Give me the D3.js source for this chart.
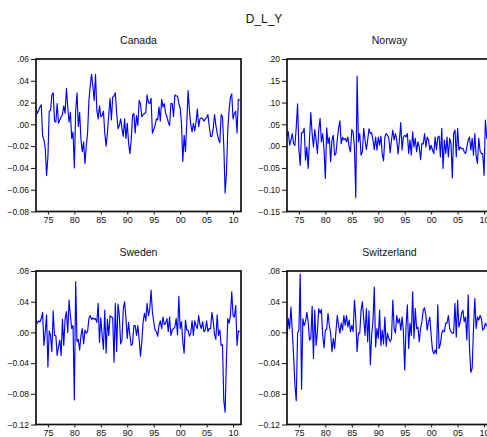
<!DOCTYPE html>
<html>
<head>
<meta charset="utf-8">
<script src="https://cdn.jsdelivr.net/npm/d3@7/dist/d3.min.js"></script>
<style>
  html, body { margin: 0; padding: 0; background: #fff; overflow: hidden; }
  svg { display: block; }
  text { font-family: "Liberation Sans", Arial, sans-serif; fill: #111; }
</style>
</head>
<body>
<svg id="chart" width="500" height="437"></svg>
<script>
// Quarterly first differences of log output, 1972Q4 onward
const sampleStart = 1972.75;
const sampleEnd = 2011.5;

const canada = [
  0.014, 0.010, 0.013, 0.016, 0.018, -0.011, -0.014, -0.022, -0.047, -0.030,
  0.012, 0.013, 0.027, 0.029, 0.003, 0.002, 0.019, 0.001, 0.004, 0.007,
  0.009, 0.017, 0.010, 0.033, 0.016, 0.002, 0.011, -0.013, -0.007, -0.040,
  0.013, 0.029, -0.002, 0.011, -0.014, -0.025, -0.016, -0.036, -0.020, -0.008,
  0.022, 0.035, 0.046, 0.035, 0.022, 0.046, 0.013, 0.005, 0.017, 0.007,
  0.008, 0.012, -0.008, -0.020, -0.008, 0.009, 0.024, 0.004, 0.025, 0.026,
  0.029, 0.010, -0.004, -0.001, 0.005, -0.004, -0.011, 0.005, -0.013, 0.001,
  -0.017, -0.027, -0.014, 0.008, 0.010, -0.008, 0.008, -0.001, 0.022, 0.019,
  0.007, 0.009, 0.010, 0.011, 0.027, 0.020, 0.019, 0.024, -0.008, -0.005,
  -0.001, 0.005, 0.004, 0.016, 0.003, 0.023, 0.016, 0.019, 0.010, 0.007,
  0.002, -0.001, 0.019, 0.019, 0.007, 0.027, 0.026, 0.026, 0.019, 0.015,
  0.001, -0.034, -0.010, -0.025, 0.001, 0.031, 0.013, 0.000, -0.007, 0.001,
  -0.006, 0.002, 0.014, -0.002, 0.005, 0.006, 0.005, 0.003, 0.005, 0.006,
  0.009, -0.002, -0.011, -0.011, -0.004, 0.009, -0.001, -0.008, -0.014, -0.017,
  0.009, 0.007, -0.020, -0.063, -0.045, -0.005, 0.013, 0.025, 0.028, 0.005,
  0.010, 0.012, -0.008, 0.023, 0.022
];

const norway = [
  0.023, 0.033, 0.002, 0.014, 0.029, 0.005, 0.002, 0.044, 0.097, -0.009,
  -0.044, 0.031, 0.031, 0.041, -0.032, -0.002, -0.051, 0.014, 0.077, 0.029,
  -0.002, 0.038, 0.014, -0.017, 0.037, 0.064, 0.010, 0.029, -0.009, -0.074,
  0.042, 0.006, 0.020, -0.036, 0.014, 0.025, -0.021, -0.017, 0.014, 0.041,
  0.058, 0.006, 0.020, 0.015, 0.018, 0.010, 0.021, -0.002, -0.013, 0.038,
  0.031, -0.002, -0.118, 0.161, 0.010, 0.029, -0.021, -0.013, 0.041, 0.014,
  -0.008, 0.014, 0.040, 0.029, 0.031, 0.014, -0.008, 0.021, -0.009, 0.021,
  0.002, 0.023, -0.017, -0.034, 0.021, 0.029, 0.025, 0.018, -0.015, 0.014,
  0.037, 0.014, 0.029, 0.014, -0.018, 0.014, 0.054, -0.009, 0.021, 0.025,
  0.021, 0.029, -0.017, 0.014, -0.021, 0.033, -0.002, 0.018, -0.013, 0.010,
  -0.002, -0.031, 0.006, 0.005, 0.029, -0.002, 0.021, 0.014, -0.009, 0.002,
  -0.009, -0.017, 0.021, -0.008, 0.020, 0.023, -0.025, 0.041, -0.051, 0.014,
  -0.017, 0.021, -0.025, 0.018, 0.006, -0.073, 0.029, 0.037, -0.025, 0.041,
  -0.009, -0.002, -0.006, -0.005, -0.013, -0.017, -0.002, 0.014, 0.021, -0.009,
  0.018, -0.021, 0.029, -0.023, -0.040, 0.018, -0.011, -0.017, -0.017, -0.067,
  0.060, 0.020, 0.012
];

const sweden = [
  0.016, 0.012, 0.015, 0.014, 0.018, 0.026, -0.017, 0.001, 0.023, -0.045,
  0.002, -0.004, -0.025, 0.028, -0.004, -0.004, -0.030, -0.019, -0.010, -0.030,
  0.017, -0.017, 0.018, 0.027, 0.000, 0.042, 0.022, 0.005, 0.009, -0.088,
  0.066, -0.012, -0.009, -0.023, -0.004, 0.005, -0.015, 0.003, -0.001, 0.001,
  0.018, 0.022, 0.017, 0.019, 0.017, 0.018, 0.013, 0.038, -0.013, 0.019,
  -0.003, -0.022, 0.029, -0.027, 0.017, -0.004, 0.022, 0.020, 0.019, -0.039,
  0.038, -0.025, 0.037, 0.022, -0.015, -0.010, 0.031, 0.040, 0.018, -0.008,
  0.013, -0.004, -0.017, -0.015, 0.009, 0.009, -0.004, 0.009, -0.009, -0.031,
  -0.012, 0.014, 0.025, 0.015, 0.038, 0.022, 0.030, 0.055, 0.027, 0.014,
  0.003, 0.001, -0.005, 0.009, 0.015, 0.005, 0.020, 0.010, 0.012, 0.018,
  0.001, 0.020, -0.004, 0.003, 0.005, 0.007, 0.018, -0.003, 0.047, 0.005,
  0.014, -0.012, -0.027, 0.016, 0.003, 0.003, -0.005, -0.001, 0.015, -0.004,
  0.015, 0.009, 0.005, 0.022, 0.010, 0.005, 0.014, 0.001, 0.003, 0.015,
  0.001, 0.005, 0.005, 0.026, 0.014, -0.003, -0.009, 0.023, -0.004, 0.003,
  -0.017, -0.016, -0.089, -0.104, -0.034, 0.018, 0.012, 0.022, 0.053, 0.022,
  0.020, 0.035, -0.017, 0.002, 0.001
];

const switzerland = [
  -0.008, 0.018, 0.005, 0.033, 0.001, -0.030, -0.069, -0.089, -0.001, 0.003,
  0.076, -0.074, 0.018, 0.009, 0.014, 0.026, 0.014, -0.010, -0.008, 0.034,
  -0.034, 0.029, -0.017, 0.001, 0.031, 0.025, 0.030, -0.004, -0.020, 0.003,
  0.004, 0.025, 0.009, -0.001, -0.025, -0.008, -0.021, 0.001, 0.022, 0.009,
  -0.001, 0.012, 0.003, 0.022, 0.009, 0.022, 0.007, 0.016, 0.001, 0.009,
  0.001, 0.042, 0.018, -0.025, -0.001, -0.001, 0.029, 0.040, 0.018, -0.004,
  0.031, -0.012, 0.028, -0.042, -0.004, 0.015, 0.059, -0.019, 0.005, -0.008,
  0.029, -0.017, 0.003, -0.015, 0.020, -0.018, -0.001, -0.008, -0.012, -0.008,
  0.042, 0.005, -0.001, 0.022, 0.012, 0.018, 0.003, 0.020, 0.001, -0.049,
  0.007, 0.036, -0.021, 0.012, -0.004, 0.053, -0.008, 0.031, 0.005, 0.007,
  -0.012, 0.005, 0.014, 0.029, 0.032, 0.022, 0.003, 0.014, 0.020, -0.004,
  -0.023, -0.028, -0.023, -0.028, 0.036, -0.021, -0.015, -0.001, 0.003, 0.001,
  0.012, 0.012, 0.022, 0.005, 0.001, -0.001, -0.001, 0.038, -0.006, 0.042,
  0.007, 0.014, 0.025, 0.029, 0.014, 0.020, -0.010, 0.049, -0.021, -0.052,
  -0.047, 0.005, 0.044, 0.005, 0.020, 0.016, 0.022, 0.018, 0.003, 0.005,
  0.012, 0.008
];

const yearTicks = [1975, 1980, 1985, 1990, 1995, 2000, 2005, 2010];
const canadaTicks = [-0.08, -0.06, -0.04, -0.02, 0.00, 0.02, 0.04, 0.06];
const norwayTicks = [-0.15, -0.10, -0.05, 0.00, 0.05, 0.10, 0.15, 0.20];
const swedenTicks = [-0.12, -0.08, -0.04, 0.00, 0.04, 0.08];
const switzerlandTicks = [-0.12, -0.08, -0.04, 0.00, 0.04, 0.08];

const chartTitle = "D_L_Y";

const panels = [
  { name: "Canada",      values: canada,      ticks: canadaTicks,      box: [36, 59, 241, 211.5] },
  { name: "Norway",      values: norway,      ticks: norwayTicks,      box: [287, 59, 492, 211.5] },
  { name: "Sweden",      values: sweden,      ticks: swedenTicks,      box: [36, 271, 241, 424.5] },
  { name: "Switzerland", values: switzerland, ticks: switzerlandTicks, box: [287, 271, 492, 424.5] }
];

const svg = d3.select("#chart");

svg.append("text")
  .attr("x", 264).attr("y", 23)
  .attr("text-anchor", "middle")
  .style("font-size", "12px")
  .text(chartTitle);

// ".06" / "-.08" style labels without the leading zero
const tickFmt = v => {
  const s = d3.format(".2f")(v);
  return s.replace(/^(-?)0\./, "$1.");
};

panels.forEach((p, idx) => {
  const [x0, y0, x1, y1] = p.box;
  const x = d3.scaleLinear().domain([sampleStart, sampleEnd]).range([x0, x1]);
  const y = d3.scaleLinear().domain(d3.extent(p.ticks)).range([y1, y0]);

  const g = svg.append("g");

  g.append("text")
    .attr("x", (x0 + x1) / 2).attr("y", y0 - 15)
    .attr("text-anchor", "middle")
    .style("font-size", "10.5px")
    .text(p.name);

  const clipId = "clip" + idx;
  g.append("clipPath").attr("id", clipId)
    .append("rect").attr("x", x0).attr("y", y0).attr("width", x1 - x0).attr("height", y1 - y0);

  const pts = p.values.map((v, i) => ({ t: sampleStart + i / 4, v }));
  g.append("path")
    .datum(pts)
    .attr("clip-path", `url(#${clipId})`)
    .attr("fill", "none")
    .attr("stroke", "#0000ff")
    .attr("stroke-width", 1.15)
    .attr("stroke-linejoin", "round")
    .attr("d", d3.line().x(d => x(d.t)).y(d => y(d.v)));

  // value axis
  const ya = g.append("g")
    .attr("transform", `translate(${x0},0)`)
    .call(d3.axisLeft(y).tickValues(p.ticks).tickFormat(tickFmt).tickSize(5).tickSizeOuter(0).tickPadding(2));
  ya.select(".domain").remove();
  ya.selectAll("text").style("font-size", "8.5px").attr("font-family", null);
  ya.selectAll("line").attr("stroke", "#111");

  // year axis
  const xa = g.append("g")
    .attr("transform", `translate(0,${y1})`)
    .call(d3.axisBottom(x).tickValues(yearTicks).tickFormat(d => String(d).slice(2)).tickSize(3).tickSizeOuter(0).tickPadding(2));
  xa.select(".domain").remove();
  xa.selectAll("text").style("font-size", "9px").attr("font-family", null);
  xa.selectAll("line").attr("stroke", "#111");

  // frame
  g.append("rect")
    .attr("x", x0).attr("y", y0)
    .attr("width", x1 - x0).attr("height", y1 - y0)
    .attr("fill", "none")
    .attr("stroke", "#111")
    .attr("stroke-width", 1.7);
});
</script>
</body>
</html>
